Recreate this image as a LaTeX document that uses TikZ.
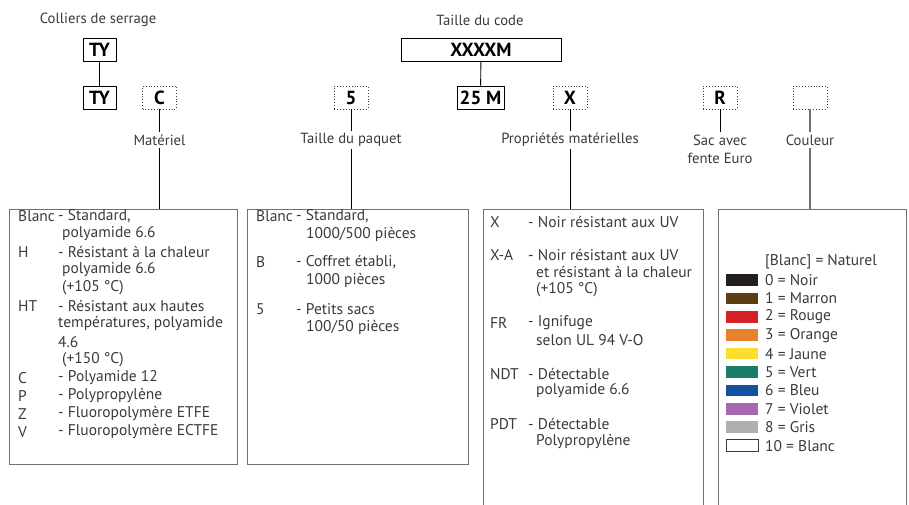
\documentclass[tikz,border=0pt]{standalone}
\usepackage{fontspec}
\setmainfont{PT Sans}
\usetikzlibrary{positioning}

\definecolor{txtgray}{HTML}{3A3A3A}
\definecolor{framegray}{HTML}{707070}
\definecolor{cnoir}{HTML}{231F20}
\definecolor{cmarron}{HTML}{5E3C14}
\definecolor{crouge}{HTML}{D42027}
\definecolor{corange}{HTML}{E6822A}
\definecolor{cjaune}{HTML}{FDDD2F}
\definecolor{cvert}{HTML}{1A7D6B}
\definecolor{cbleu}{HTML}{14529E}
\definecolor{cviolet}{HTML}{A56AAD}
\definecolor{cgris}{HTML}{B1AEB0}
\definecolor{cblanc}{HTML}{FFFFFF}

\begin{document}
\begin{tikzpicture}[x=1pt, y=-1pt,
  every node/.style={inner sep=0pt, text=txtgray, font=\fontsize{14.7}{17}\selectfont},
  codebox/.style={draw=black, line width=0.9pt, minimum height=23pt, text=black, font=\fontsize{19}{19}\selectfont\bfseries},
  optbox/.style={draw=black!75, dotted, line width=0.9pt, minimum width=34pt, minimum height=23pt, text=black, font=\fontsize{19}{19}\selectfont\bfseries},
  fieldlabel/.style={inner ysep=2pt, align=center},
  listbox/.style={draw=framegray, line width=0.9pt, anchor=north west},
  entry/.style={anchor=west, font=\fontsize{15.5}{18}\selectfont},
  link/.style={line width=0.9pt, black},
  swatch/.style={draw=none, minimum width=32pt, minimum height=11.5pt}]

\useasboundingbox (0,0) rectangle (909,505);
\clip (0,0) rectangle (909,505);

% titles
\node (ttl) at (98,20) {Colliers de serrage};
\node (tcode) at (480,20) {Taille du code};

% code boxes
\node[codebox, minimum width=33pt] (ty1) at (99.5,49.5) {TY};
\node[codebox, minimum width=33pt] (ty2) at (99.5,97.5) {TY};
\node[codebox, minimum width=160pt] (xm) at (481,49.5) {XXXXM};
\node[codebox, minimum width=47pt] (m25) at (480.5,97.5) {25 M};
\node[optbox] (cbox) at (159.5,97.5) {C};
\node[optbox] (pbox) at (351,97.5) {5};
\node[optbox] (xbox) at (570,97.5) {X};
\node[optbox] (rbox) at (720,97.5) {R};
\node[optbox] (kbox) at (810,97.5) {};

\draw[link] (ty1) -- (ty2);
\draw[link] (xm) -- (m25);

% field labels
\node[fieldlabel] (matlab) at (159.5,140) {Matériel};
\node[fieldlabel] (paqlab) at (351,140) {Taille du paquet};
\node[fieldlabel] (proplab) at (570,140) {Propriétés matérielles};
\node[fieldlabel, font=\fontsize{14.7}{18}\selectfont] (saclab) at (720,149) {Sac avec\\fente Euro};
\node[fieldlabel] (coullab) at (810,140) {Couleur};

% list boxes
\node[listbox, minimum width=228pt, minimum height=255pt] (matbox) at (9,209) {};
\node[listbox, minimum width=221pt, minimum height=255pt] (paqbox) at (247,209) {};
\node[listbox, minimum width=220pt, minimum height=320pt] (propbox) at (483,209) {};
\node[listbox, minimum width=188pt, minimum height=320pt] (coulbox) at (718,209) {};

% connectors
\draw[link] (cbox) -- (matlab);
\draw[link] (matlab.south) -- (matlab.south |- matbox.north);
\draw[link] (pbox) -- (paqlab);
\draw[link] (paqlab.south) -- (paqlab.south |- paqbox.north);
\draw[link] (xbox) -- (proplab);
\draw[link] (proplab.south) -- (proplab.south |- propbox.north);
\draw[link] (rbox) -- (saclab);
\draw[framegray, line width=1.3pt] (kbox) -- (coullab);
\draw[framegray, line width=1.3pt] (coullab.south) -- (coullab.south |- coulbox.north);

% Matériel entries
\foreach \y/\k/\tx/\t in {216/Blanc/58/{- Standard,}, 234//62/{polyamide 6.6},
  252/H/58/{- Résistant à la chaleur}, 270//62/{polyamide 6.6}, 288//62/{(+105 °C)},
  306/HT/58/{- Résistant aux hautes}, 324//58/{températures, polyamide}, 342//58/{4.6},
  360//62/{(+150 °C)}, 378/C/58/{- Polyamide 12}, 396/P/58/{- Polypropylène},
  414/Z/58/{- Fluoropolymère ETFE}, 432/V/58/{- Fluoropolymère ECTFE}}
{
  \node[entry] at (18,\y) {\k};
  \node[entry] at (\tx,\y) {\t};
}

% Taille du paquet entries
\foreach \y/\k/\tx/\t in {216/Blanc/296/{- Standard,}, 234//306/{1000/500 pièces},
  262/B/296/{- Coffret établi,}, 280//306/{1000 pièces},
  309/5/296/{- Petits sacs}, 327//306/{100/50 pièces}}
{
  \node[entry] at (256,\y) {\k};
  \node[entry] at (\tx,\y) {\t};
}

% Propriétés entries
\foreach \y/\k/\tx/\t in {222/X/528/{- Noir résistant aux UV},
  255/X-A/528/{- Noir résistant aux UV}, 272//536/{et résistant à la chaleur}, 290//536/{(+105 °C)},
  323/FR/528/{- Ignifuge}, 340//536/{selon UL 94 V-O},
  374/NDT/528/{- Détectable}, 391//536/{polyamide 6.6},
  424/PDT/528/{- Détectable}, 442//536/{Polypropylène}}
{
  \node[entry] at (490,\y) {\k};
  \node[entry] at (\tx,\y) {\t};
}

% Couleur entries
\node[entry] (nat) at (765,262) {[Blanc] = Naturel};
\foreach \c/\t [count=\n from 0] in {cnoir/0 = Noir, cmarron/1 = Marron, crouge/2 = Rouge,
  corange/3 = Orange, cjaune/4 = Jaune, cvert/5 = Vert, cbleu/6 = Bleu,
  cviolet/7 = Violet, cgris/8 = Gris}
{
  \node[swatch, fill=\c] (sw\n) at (742,280+18.4*\n) {};
  \node[entry] at (765,280+18.4*\n) {\t};
}
\node[swatch, fill=cblanc, draw=txtgray, line width=0.8pt] (sw10) at (742,445.6) {};
\node[entry] at (765,445.6) {10 = Blanc};

\end{tikzpicture}
\end{document}
